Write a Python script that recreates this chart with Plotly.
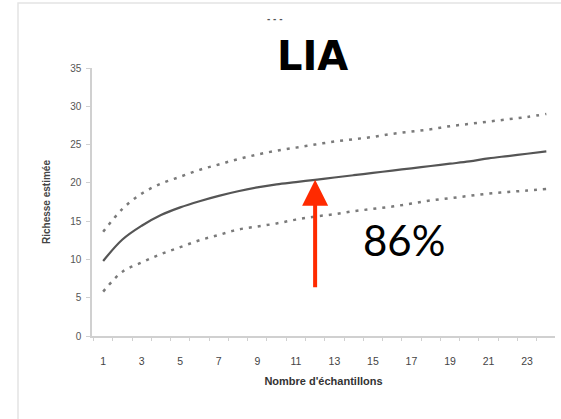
import plotly.graph_objects as go

# Rarefaction curve: estimated richness vs number of samples
samples = list(range(1, 25))
richness_mean = [9.8, 12.6, 14.4, 15.8, 16.8, 17.6, 18.3, 18.9, 19.4, 19.8, 20.1, 20.4,
                 20.7, 21.0, 21.3, 21.6, 21.9, 22.2, 22.5, 22.8, 23.2, 23.5, 23.8, 24.1]
richness_upper = [13.6, 16.6, 18.6, 19.9, 20.8, 21.7, 22.4, 23.1, 23.7, 24.2, 24.6, 25.0,
                  25.4, 25.7, 26.0, 26.4, 26.7, 27.0, 27.4, 27.7, 28.0, 28.3, 28.6, 29.0]
richness_lower = [5.8, 8.4, 9.6, 10.7, 11.6, 12.5, 13.2, 13.9, 14.3, 14.7, 15.2, 15.6,
                  15.9, 16.3, 16.6, 16.9, 17.3, 17.7, 18.0, 18.3, 18.6, 18.8, 19.0, 19.2]
x_tick_vals = list(range(1, 24, 2))
y_tick_vals = [0, 5, 10, 15, 20, 25, 30, 35]

highlight_sample = 12
highlight_label = "86%"
title_text = "LIA"

fig = go.Figure()

for series in (richness_upper, richness_lower):
    fig.add_trace(go.Scatter(
        x=samples, y=series, mode="lines",
        line=dict(color="#7a7a7a", width=2.5, dash="3px,6px", shape="spline"),
        hoverinfo="skip", showlegend=False,
    ))

fig.add_trace(go.Scatter(
    x=samples, y=richness_mean, mode="lines",
    line=dict(color="#555555", width=2.2, shape="spline"),
    showlegend=False,
))

axis_grey = "#d0d0d0"
label_family = "Liberation Sans, Arial, sans-serif"

fig.update_xaxes(
    range=[0.42, 24.45],
    tickvals=x_tick_vals,
    ticktext=[str(v) for v in x_tick_vals],
    ticks="", showgrid=False, zeroline=False,
    showline=True, linecolor=axis_grey, linewidth=1.5,
    ticklabelstandoff=15,
    tickfont=dict(family=label_family, size=10.5, color="#444444"),
    minor=dict(tick0=0.5, dtick=1, ticks="outside", ticklen=3, tickcolor=axis_grey),
    title=dict(text="<b>Nombre d'échantillons</b>", standoff=11,
               font=dict(family=label_family, size=11, color="#333333")),
)
fig.update_yaxes(
    range=[0, 35],
    tickvals=y_tick_vals,
    ticks="outside", ticklen=4, tickcolor=axis_grey,
    showgrid=False, zeroline=False,
    showline=True, linecolor=axis_grey, linewidth=1.5,
    ticklabelstandoff=3,
    tickfont=dict(family=label_family, size=10, color="#555555"),
    title=dict(text="<b>Richesse estimée</b>", standoff=18,
               font=dict(family=label_family, size=10, color="#444444")),
)

# Arrow pointing at the mean curve
fig.add_annotation(
    x=highlight_sample, y=richness_mean[samples.index(highlight_sample)],
    xref="x", yref="y", text="", showarrow=True,
    ax=0, ay=109, arrowcolor="#ff2a00", arrowwidth=4,
    arrowhead=2, arrowsize=1.3,
)

W, H = 561, 419
ML, MR, MT, MB = 92, 6, 68, 83
PW, PH = W - ML - MR, H - MT - MB


def px_x(v):
    return (v - ML) / PW


def px_y(v):
    return 1 - (v - MT) / PH


fig.add_annotation(
    x=px_x(404), y=px_y(240), xref="paper", yref="paper",
    xanchor="center", yanchor="middle", text=highlight_label, showarrow=False,
    font=dict(family="Lato, Open Sans, sans-serif", size=42, color="#000000"),
)

fig.add_annotation(
    text=f"<b>{title_text}</b>", showarrow=False,
    xanchor="center", yanchor="middle",
    font=dict(family="DejaVu Sans, sans-serif", size=40, color="#000000"),
    x=px_x(312), y=px_y(56), xref="paper", yref="paper",
)

fig.add_annotation(
    text="<b>- - -</b>", showarrow=False,
    xanchor="center", yanchor="middle",
    font=dict(family="DejaVu Sans, sans-serif", size=8, color="#555555"),
    x=px_x(275), y=px_y(20), xref="paper", yref="paper",
)

# outer light frame
fig.add_shape(
    type="rect", xref="paper", yref="paper",
    x0=px_x(18), x1=px_x(W + 5), y0=px_y(H + 5), y1=px_y(3),
    line=dict(color="#e4e4e4", width=1.5), layer="below",
)

fig.update_layout(
    width=W, height=H,
    margin=dict(l=ML, r=MR, t=MT, b=MB),
    paper_bgcolor="white", plot_bgcolor="white",
    showlegend=False,
)

fig.write_html("out.html")
